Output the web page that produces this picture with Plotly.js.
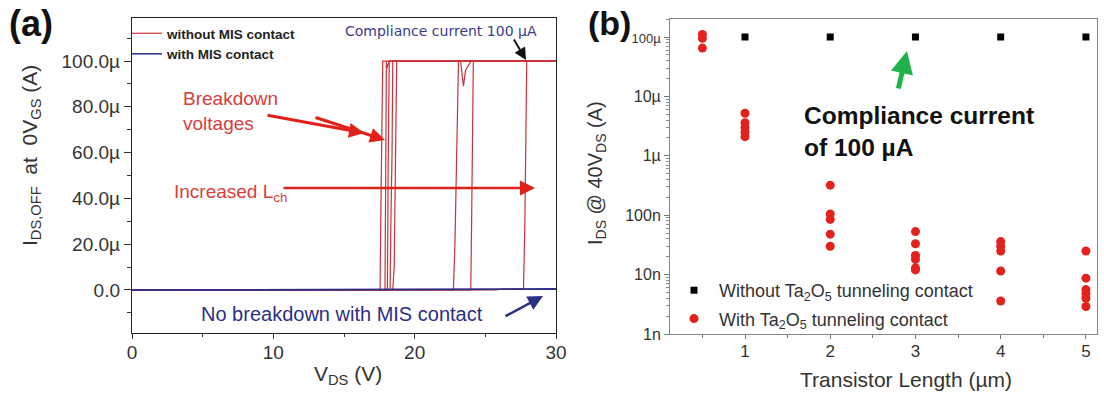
<!DOCTYPE html>
<html>
<head>
<meta charset="utf-8">
<script src="https://cdn.plot.ly/plotly-3.0.1.min.js"></script>
<style>html,body{margin:0;padding:0;background:#fff;}#chart{width:1104px;height:396px;}</style>
</head>
<body>
<div id="chart"></div>
<script>
// ---------- Panel (a): I_DS,OFF vs V_DS (A) ----------
// without MIS contact (red) — individual breakdown sweeps
const vA1 = [0, 17.55, 17.6, 17.68, 17.74, 30];
const iA1 = [0, 0, 3e-5, 7e-5, 1e-4, 1e-4];
const vA2 = [0, 17.9, 17.95, 18.0, 18.05, 18.12, 18.2, 30];
const iA2 = [0, 0, 5e-5, 1e-4, 9.7e-5, 9.9e-5, 1e-4, 1e-4];
const vA3 = [0, 18.07, 18.12, 18.2, 30];
const iA3 = [0, 0, 5e-5, 1e-4, 1e-4];
const vA4 = [0, 18.26, 18.32, 18.4, 18.45, 30];
const iA4 = [0, 0, 3e-5, 6e-5, 1e-4, 1e-4];
const vA5 = [0, 18.45, 18.55, 18.62, 18.73, 30];
const iA5 = [0, 0, 1e-5, 5e-5, 1e-4, 1e-4];
const vA6 = [0, 22.74, 22.85, 22.95, 23.1, 23.25, 23.35, 23.45, 23.6, 23.8, 24.0, 30];
const iA6 = [0, 0, 2e-5, 6e-5, 1e-4, 1e-4, 9.3e-5, 8.9e-5, 9.6e-5, 9.8e-5, 1e-4, 1e-4];
const vA7 = [0, 23.97, 24.03, 24.1, 24.15, 30];
const iA7 = [0, 0, 3e-5, 7e-5, 1e-4, 1e-4];
const vA8 = [0, 25.7, 26.3, 27.7, 27.8, 27.88, 27.93, 30];
const iA8 = [0, 0, 5e-7, 5e-7, 3e-5, 7e-5, 1e-4, 1e-4];
// with MIS contact (navy)
const vM1 = [0, 26.3, 27, 28, 30];
const iM1 = [0, 0, 3e-7, 4e-7, 5e-7];
const vM2 = [0, 26.5, 28.5, 30];
const iM2 = [0, 0, 2e-7, 3e-7];

const aXTicks = [0, 10, 20, 30];
const aXTickText = ['0', '10', '20', '30'];
const aXMinor = [5, 15, 25];
const aYTicks = [0, 2e-5, 4e-5, 6e-5, 8e-5, 1e-4];
const aYTickText = ['0.0', '20.0\u00b5', '40.0\u00b5', '60.0\u00b5', '80.0\u00b5', '100.0\u00b5'];
const aYMinor = [-1e-5, 1e-5, 3e-5, 5e-5, 7e-5, 9e-5, 1.1e-4];

// ---------- Panel (b): I_DS @ 40 V_DS vs transistor length ----------
const lenWithout = [1, 2, 3, 4, 5];
const iWithout = [1e-4, 1e-4, 1e-4, 1e-4, 1e-4];
const lenWith = [0.5, 0.5, 0.5,
                 1, 1, 1, 1, 1,
                 2, 2, 2, 2, 2,
                 3, 3, 3, 3, 3, 3,
                 4, 4, 4, 4, 4,
                 5, 5, 5, 5, 5, 5];
const iWith = [1.1e-4, 9.5e-5, 6.5e-5,
               5.2e-6, 3.6e-6, 3.0e-6, 2.5e-6, 2.1e-6,
               3.2e-7, 1.05e-7, 8.5e-8, 4.8e-8, 3.0e-8,
               5.3e-8, 3.3e-8, 2.1e-8, 1.8e-8, 1.3e-8, 1.2e-8,
               3.6e-8, 3.0e-8, 2.5e-8, 1.15e-8, 3.6e-9,
               2.5e-8, 8.7e-9, 5.6e-9, 4.8e-9, 4.0e-9, 2.9e-9];

const bXTicks = [1, 2, 3, 4, 5];
const bXTickText = ['1', '2', '3', '4', '5'];
const bXMinor = [0.5, 1.5, 2.5, 3.5, 4.5];
const bYTicks = [1e-9, 1e-8, 1e-7, 1e-6, 1e-5, 1e-4];
const bYTickText = ['1n', '10n', '100n', '1\u00b5', '10\u00b5', '<span style="font-size:13px">100\u00b5</span>'];

// ---------- helpers (pixel -> paper) ----------
const W = 1104, H = 396;
const P = x => x / W;
const Q = y => 1 - y / H;
const FONT = 'Liberation Sans, Arial, Helvetica, sans-serif';
const RED_LINE = '#c8323a';
const NAVY = '#2c2f86';

const minorLog = [];
for (let e = -9; e < -3; e++) for (let m = 2; m <= 9; m++) minorLog.push(m * Math.pow(10, e));

const redSets = [[vA1,iA1],[vA2,iA2],[vA3,iA3],[vA4,iA4],[vA5,iA5],[vA6,iA6],[vA7,iA7],[vA8,iA8]];
const traces = [];
redSets.forEach((s, k) => {
  traces.push({
    x: s[0], y: s[1], type: 'scatter', mode: 'lines', xaxis: 'x', yaxis: 'y',
    line: {color: RED_LINE, width: 1.2},
    name: 'without MIS contact', legend: 'legend', legendgroup: 'red',
    showlegend: k === 0, hoverinfo: 'skip'
  });
});
traces.push({x: vM1, y: iM1, type: 'scatter', mode: 'lines', xaxis: 'x', yaxis: 'y',
  line: {color: NAVY, width: 1.5}, name: 'with MIS contact', legend: 'legend', legendgroup: 'navy', showlegend: true});
traces.push({x: vM2, y: iM2, type: 'scatter', mode: 'lines', xaxis: 'x', yaxis: 'y',
  line: {color: NAVY, width: 1.5}, name: 'with MIS contact', legend: 'legend', legendgroup: 'navy', showlegend: false});

traces.push({x: lenWithout, y: iWithout, type: 'scatter', mode: 'markers', xaxis: 'x2', yaxis: 'y2',
  marker: {symbol: 'square', size: 7, color: '#000'},
  name: 'Without Ta<sub>2</sub>O<sub>5</sub> tunneling contact', legend: 'legend2', legendgroup: 'sq'});
traces.push({x: lenWith, y: iWith, type: 'scatter', mode: 'markers', xaxis: 'x2', yaxis: 'y2',
  marker: {symbol: 'circle', size: 9, color: '#e3221e'},
  name: 'With Ta<sub>2</sub>O<sub>5</sub> tunneling contact', legend: 'legend2', legendgroup: 'ci'});

function ann(text, x, y, opts) {
  return Object.assign({text: text, xref: 'paper', yref: 'paper', x: P(x), y: Q(y),
    xanchor: 'center', yanchor: 'middle', showarrow: false,
    font: {family: FONT, size: 18, color: '#333'}}, opts || {});
}
function arrow(hx, hy, tx, ty, color, width, size) {
  return {text: '', xref: 'paper', yref: 'paper', x: P(hx), y: Q(hy), ax: tx - hx, ay: ty - hy,
    axref: 'pixel', ayref: 'pixel', showarrow: true, arrowhead: 2, arrowsize: size || 1,
    arrowwidth: width, arrowcolor: color, standoff: 0, startstandoff: 0};
}

const annotations = [
  ann('<b>(a)</b>', 31, 24, {font: {family: FONT, size: 36, color: '#111'}}),
  ann('<b>(b)</b>', 609, 23, {font: {family: FONT, size: 34, color: '#111'}, borderpad: 0}),
  ann('Compliance current 100 \u00b5A', 441, 31, {font: {family: 'DejaVu Sans, sans-serif', size: 14, color: '#3a3a8e'}}),
  ann('Breakdown<br>voltages', 181, 111, {xanchor: 'left', align: 'left', font: {family: FONT, size: 19, color: '#d6403b'}}),
  ann('Increased L<sub>ch</sub>', 172, 193, {xanchor: 'left', align: 'left', font: {family: FONT, size: 19, color: '#d6403b'}}),
  ann('No breakdown with MIS contact', 342, 314, {font: {family: FONT, size: 20, color: NAVY}}),
  ann('I<sub>DS,OFF</sub>\u00a0 at \u00a00V<sub>GS</sub> (A)', 31, 156, {textangle: -90, font: {family: FONT, size: 21, color: '#333'}}),
  ann('V<sub>DS</sub> (V)', 348, 375, {font: {family: FONT, size: 21, color: '#333'}}),
  ann('I<sub>DS</sub> @ 40V<sub>DS</sub> (A)', 596, 173, {textangle: -90, font: {family: FONT, size: 20, color: '#333'}}),
  ann('Transistor Length (\u00b5m)', 906, 379, {font: {family: FONT, size: 21, color: '#333'}}),
  ann('<b>Compliance current<br>of 100 \u00b5A</b>', 802, 132, {xanchor: 'left', align: 'left', font: {family: FONT, size: 24.5, color: '#111'}}),
  arrow(526, 60, 513, 38, '#111', 2, 1.2),
  arrow(364, 133, 266, 115, '#e0201b', 3, 1),
  arrow(385, 140, 314, 117, '#e0201b', 3, 1),
  arrow(535, 188, 282, 188, '#e0201b', 2.5, 1.2),
  arrow(543, 296, 504, 317, NAVY, 2.5, 1.2),
  arrow(907, 51, 898, 90, '#22b24c', 5, 0.9)
];

const axBase = {showgrid: false, zeroline: false, showline: true, mirror: true, ticks: 'outside',
  tickmode: 'array', fixedrange: true};

const layout = {
  width: W, height: H,
  margin: {l: 0, r: 0, t: 0, b: 0},
  paper_bgcolor: '#fff', plot_bgcolor: '#fff',
  font: {family: FONT, color: '#333'},
  showlegend: true,
  xaxis: Object.assign({}, axBase, {domain: [P(132), P(556)], range: [0, 30], anchor: 'y',
    tickvals: aXTicks, ticktext: aXTickText, ticklen: 5, tickcolor: '#333', linecolor: '#222', linewidth: 1.2,
    ticklabelstandoff: -3,
    tickfont: {family: FONT, size: 19, color: '#333'},
    minor: {tickmode: 'array', tickvals: aXMinor, ticklen: 3, tickcolor: '#333', ticks: 'outside'}}),
  yaxis: Object.assign({}, axBase, {domain: [Q(333), Q(18)], range: [-18.8e-6, 118.8e-6], anchor: 'x',
    tickvals: aYTicks, ticktext: aYTickText, ticklen: 7, tickcolor: '#333', linecolor: '#222', linewidth: 1.2,
    tickfont: {family: FONT, size: 19, color: '#333'},
    minor: {tickmode: 'array', tickvals: aYMinor, ticklen: 4, tickcolor: '#333', ticks: 'outside'}}),
  xaxis2: Object.assign({}, axBase, {domain: [P(670), P(1097)], range: [0.12, 5.13], anchor: 'y2',
    tickvals: bXTicks, ticktext: bXTickText, ticklen: 4, tickcolor: '#777', linecolor: '#888', linewidth: 1,
    ticklabelstandoff: -2,
    tickfont: {family: FONT, size: 17, color: '#333'},
    minor: {tickmode: 'array', tickvals: bXMinor, ticklen: 3, tickcolor: '#777', ticks: 'outside'}}),
  yaxis2: Object.assign({}, axBase, {domain: [Q(334), Q(19)], type: 'log', range: [-9, -3.697], anchor: 'x2',
    tickvals: bYTicks, ticktext: bYTickText, ticklen: 5, tickcolor: '#777', linecolor: '#888', linewidth: 1,
    tickfont: {family: FONT, size: 16, color: '#333'},
    minor: {tickmode: 'array', tickvals: minorLog, ticklen: 3, tickcolor: '#888', ticks: 'outside'}}),
  legend: {x: P(127), y: Q(18), xanchor: 'left', yanchor: 'top', bgcolor: 'rgba(0,0,0,0)',
    borderwidth: 0, itemwidth: 30, tracegroupgap: 0,
    font: {family: FONT, size: 13.5, weight: 'bold', color: '#222'}},
  legend2: {x: P(669), y: Q(272), xanchor: 'left', yanchor: 'top', bgcolor: 'rgba(0,0,0,0)',
    borderwidth: 0, itemwidth: 40, tracegroupgap: 2,
    font: {family: FONT, size: 18, color: '#333'}},
  annotations: annotations
};

Plotly.newPlot('chart', traces, layout, {staticPlot: true, displayModeBar: false});
</script>
</body>
</html>
